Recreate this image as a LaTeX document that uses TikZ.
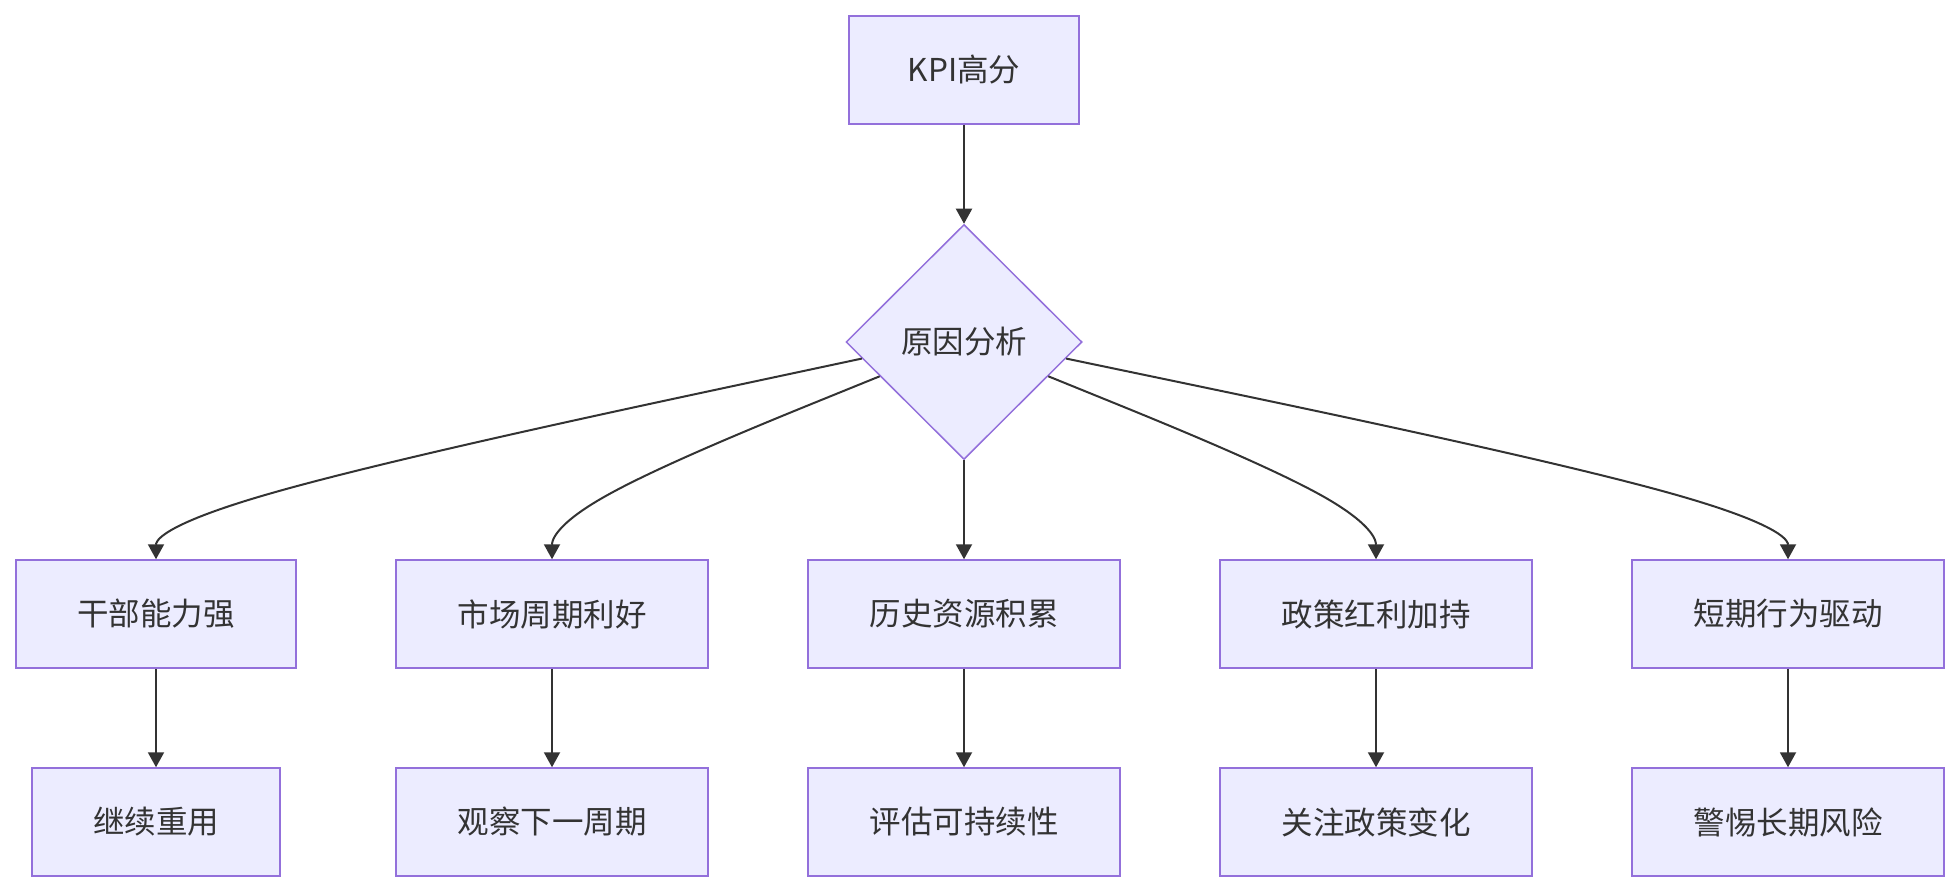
\documentclass[tikz,border=0pt]{standalone}
\usepackage{fontspec}
\newfontfamily\cjkfont{Noto Sans CJK SC}
\usetikzlibrary{shapes.geometric,arrows.meta,calc}
\definecolor{nodefill}{HTML}{ECECFF}
\definecolor{nodeline}{HTML}{9370DB}
\definecolor{edgeline}{HTML}{333333}
\newcommand\bsedge[3]{\draw[edge] (#1) -- ($0.8333*(#1)+0.1667*(#2)$) .. controls ($0.6667*(#1)+0.3333*(#2)$) and ($0.3333*(#1)+0.6667*(#2)$) .. ($0.1667*(#1)+0.6667*(#2)+0.1667*(#3)$) .. controls ($0.6667*(#2)+0.3333*(#3)$) and ($0.3333*(#2)+0.6667*(#3)$) .. (#3);}
\begin{document}
\begin{tikzpicture}[x=1pt,y=-1pt,
  box/.style={draw=nodeline, fill=nodefill, line width=1.5pt, minimum height=108pt, inner sep=0pt, text=edgeline, font=\cjkfont\fontsize{31.5}{36}\selectfont},
  dia/.style={box, diamond, minimum width=236pt, minimum height=235pt},
  edge/.style={draw=edgeline, line width=2pt, -{Triangle[length=15pt,width=16pt]}}]
\useasboundingbox (0,0) rectangle (1960,892);
\node[box, minimum width=230pt] (top) at (964,70) {KPI高分};
\node[dia] (dia) at (964,342) {原因分析};
\node[box, minimum width=280pt] (b1) at (156,614) {干部能力强};
\node[box, minimum width=312pt] (b2) at (552,614) {市场周期利好};
\node[box, minimum width=312pt] (b3) at (964,614) {历史资源积累};
\node[box, minimum width=312pt] (b4) at (1376,614) {政策红利加持};
\node[box, minimum width=312pt] (b5) at (1788,614) {短期行为驱动};
\node[box, minimum width=248pt] (c1) at (156,822) {继续重用};
\node[box, minimum width=312pt] (c2) at (552,822) {观察下一周期};
\node[box, minimum width=312pt] (c3) at (964,822) {评估可持续性};
\node[box, minimum width=312pt] (c4) at (1376,822) {关注政策变化};
\node[box, minimum width=312pt] (c5) at (1788,822) {警惕长期风险};
\coordinate (s1) at ($(dia.west)!0.14!(dia.south)$);
\coordinate (s2) at ($(dia.west)!0.29!(dia.south)$);
\coordinate (s4) at ($(dia.east)!0.29!(dia.south)$);
\coordinate (s5) at ($(dia.east)!0.14!(dia.south)$);
\coordinate (m1) at ($(b1.north)+(0,-50)$);
\coordinate (m2) at ($(b2.north)+(0,-50)$);
\coordinate (m4) at ($(b4.north)+(0,-50)$);
\coordinate (m5) at ($(b5.north)+(0,-50)$);
\draw[edge] (top) -- (dia);
\bsedge{s1}{m1}{b1.north}
\bsedge{s2}{m2}{b2.north}
\draw[edge] (dia.south) -- (b3.north);
\bsedge{s4}{m4}{b4.north}
\bsedge{s5}{m5}{b5.north}
\foreach \i in {1,...,5} {\draw[edge] (b\i) -- (c\i);}
\end{tikzpicture}
\end{document}
